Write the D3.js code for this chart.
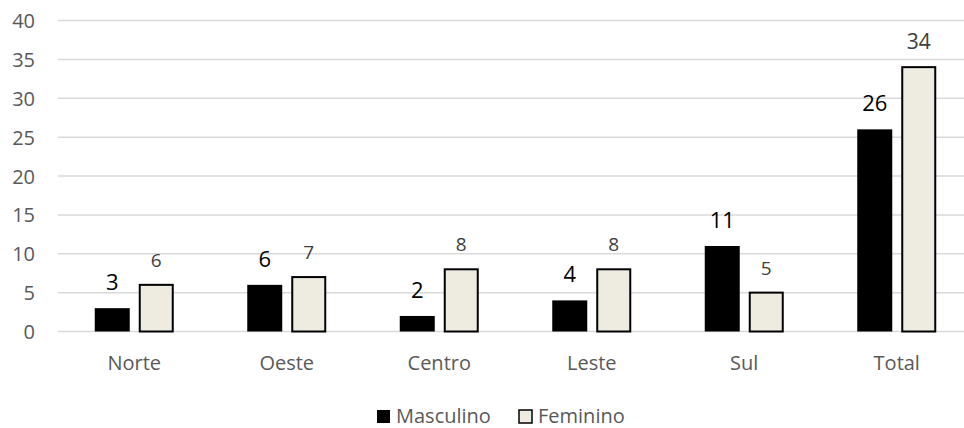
<!DOCTYPE html>
<html>
<head>
<meta charset="utf-8">
<script src="https://cdn.jsdelivr.net/npm/d3@7"></script>
<style>
  html, body { margin: 0; padding: 0; background: #fff; }
  svg { display: block; font-family: "Open Sans", "Noto Sans", sans-serif; }
</style>
</head>
<body>
<svg id="chart" width="964" height="428"></svg>
<script>
// Regions and values per sex
const categories = ["Norte", "Oeste", "Centro", "Leste", "Sul", "Total"];
const masculino = [3, 6, 2, 4, 11, 26];
const feminino = [6, 7, 8, 8, 5, 34];
const seriesNames = ["Masculino", "Feminino"];
const yTicks = [0, 5, 10, 15, 20, 25, 30, 35, 40];

const svg = d3.select("#chart");
const W = 964;

const x = d3.scaleBand().domain(categories).range([58, 973]);
const y = d3.scaleLinear().domain([0, 40]).range([331.5, 20.5]);

// Horizontal gridlines
svg.append("g").selectAll("line").data(yTicks).join("line")
  .attr("x1", 58).attr("x2", W)
  .attr("y1", d => y(d)).attr("y2", d => y(d))
  .attr("stroke", "#d9d9d9").attr("stroke-width", 1.5);

// Y axis labels
const yAxis = d3.axisLeft(y).tickValues(yTicks).tickSize(0).tickPadding(0);
const gy = svg.append("g").attr("transform", "translate(35,0)").call(yAxis);
gy.select(".domain").remove();
gy.selectAll("text")
  .attr("fill", "#595959").style("font-size", "20px")
  .style("font-family", "'Open Sans', sans-serif").attr("dy", "0.35em");

// X axis labels
const xAxis = d3.axisBottom(x).tickSize(0).tickPadding(0);
const gx = svg.append("g").attr("transform", "translate(0,352)").call(xAxis);
gx.select(".domain").remove();
gx.selectAll("text")
  .attr("fill", "#595959").style("font-size", "20px")
  .style("font-family", "'Open Sans', sans-serif").attr("dy", "0.9em");

const barW = 35, gap = 9;
const cx = c => x(c) + x.bandwidth() / 2;

// Masculino bars
svg.append("g").selectAll("rect").data(categories).join("rect")
  .attr("x", c => cx(c) - gap / 2 - barW)
  .attr("y", (c, i) => y(masculino[i]))
  .attr("width", barW)
  .attr("height", (c, i) => y(0) - y(masculino[i]))
  .attr("fill", "#000");

// Feminino bars
svg.append("g").selectAll("rect").data(categories).join("rect")
  .attr("x", c => cx(c) + gap / 2 + 1)
  .attr("y", (c, i) => y(feminino[i]))
  .attr("width", barW - 2)
  .attr("height", (c, i) => y(0) - y(feminino[i]))
  .attr("fill", "#eeece1").attr("stroke", "#000").attr("stroke-width", 2);

// Value labels
svg.append("g").selectAll("text").data(categories).join("text")
  .attr("x", c => cx(c) - gap / 2 - barW / 2)
  .attr("y", (c, i) => y(masculino[i]) - 18)
  .attr("text-anchor", "middle")
  .attr("fill", "#000").style("font-size", "22px")
  .text((c, i) => masculino[i]);

svg.append("g").selectAll("text").data(categories).join("text")
  .attr("x", c => cx(c) + gap / 2 + barW / 2)
  .attr("y", (c, i) => y(feminino[i]) - 18)
  .attr("text-anchor", "middle")
  .attr("fill", "#404040")
  .style("font-size", (c, i) => (i === categories.length - 1 ? "21px" : "19px"))
  .text((c, i) => feminino[i]);

// Legend
const legend = svg.append("g");
const legendX = [377, 519];
seriesNames.forEach((name, i) => {
  legend.append("rect")
    .attr("x", legendX[i]).attr("y", 410)
    .attr("width", 13).attr("height", 13)
    .attr("fill", i === 0 ? "#000" : "#eeece1")
    .attr("stroke", i === 0 ? "none" : "#000")
    .attr("stroke-width", 1.5);
  legend.append("text")
    .attr("x", legendX[i] + 19).attr("y", 423)
    .attr("fill", "#595959").style("font-size", "20px")
    .text(name);
});
</script>
</body>
</html>
